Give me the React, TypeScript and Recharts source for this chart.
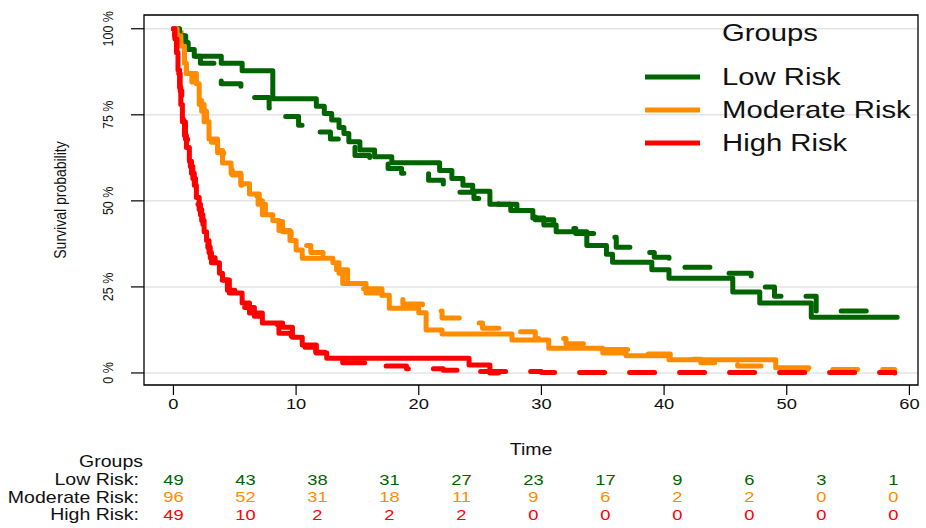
import { LineChart, Line, XAxis, YAxis, CartesianGrid, ReferenceArea, ReferenceDot, Legend } from 'recharts';

const FONT = 'Arial, "Liberation Sans", sans-serif';
const SX = 1.22; // the original is a bit stretched horizontally

const GREEN = '#006400';
const ORANGE = '#FF8C00';
const RED = '#FF0000';

// survival curves as [time, survival]
const lowSolid: [number, number][] = [
  [0, 1], [0.45, 0.98], [0.8, 0.96], [1.2, 0.94], [1.7, 0.92], [3.9, 0.9], [5.6, 0.878], [8.1, 0.797],
  [11.65, 0.775], [12.3, 0.754], [12.9, 0.735], [13.5, 0.713], [13.9, 0.696], [14.3, 0.672], [15.2, 0.648],
  [16.4, 0.628], [17.8, 0.611], [21.7, 0.588], [22.7, 0.565], [23.6, 0.545], [24.4, 0.528], [25.8, 0.49],
  [27.5, 0.472], [29.3, 0.45], [30.2, 0.43], [31.2, 0.41], [33.7, 0.37], [35.3, 0.345], [35.8, 0.322],
  [39.0, 0.3], [40.4, 0.275], [45.6, 0.235], [47.8, 0.203], [52.0, 0.162], [59.0, 0.162],
];
const lowDashed: [number, number][] = [
  [0, 1], [0.5, 0.98], [1.0, 0.95], [1.5, 0.92], [2.2, 0.9], [3.3, 0.87], [3.9, 0.84], [5.5, 0.82],
  [6.5, 0.8], [7.8, 0.77], [8.8, 0.745], [10.2, 0.72], [11.5, 0.7], [12.8, 0.68], [13.5, 0.66], [14.8, 0.632],
  [16.0, 0.61], [17.5, 0.594], [18.6, 0.58], [20.8, 0.56], [22.0, 0.54], [23.2, 0.525], [24.5, 0.507],
  [26.5, 0.49], [28.0, 0.465], [29.5, 0.445], [31.0, 0.42], [32.8, 0.405], [34.7, 0.394], [36.1, 0.365],
  [37.4, 0.35], [39.2, 0.336], [40.4, 0.307], [43.8, 0.29], [47.1, 0.275], [48.0, 0.25], [49.0, 0.223],
  [52.4, 0.18], [58.2, 0.18],
];
const modSolid: [number, number][] = [
  [0, 1], [0.25, 0.99], [0.65, 0.95], [0.9, 0.9], [1.06, 0.87], [1.87, 0.84], [2.1, 0.78], [2.5, 0.73],
  [2.9, 0.68], [3.6, 0.646], [4.0, 0.61], [4.7, 0.58], [5.5, 0.55], [6.2, 0.52], [7.0, 0.5], [7.25, 0.46],
  [8.1, 0.443], [8.6, 0.414], [9.5, 0.385], [10.0, 0.357], [10.5, 0.333], [13.0, 0.32], [13.5, 0.29],
  [13.8, 0.26], [15.7, 0.232], [17.0, 0.226], [17.6, 0.188], [20.0, 0.175], [20.6, 0.125], [21.9, 0.113],
  [27.6, 0.096], [30.6, 0.072], [35.0, 0.058], [36.9, 0.05], [40.4, 0.038], [49.1, 0.015], [51.8, 0.015],
];
const modDashed: [number, number][] = [
  [0, 1], [0.3, 0.98], [0.6, 0.95], [0.85, 0.91], [1.05, 0.87], [1.5, 0.845], [2.0, 0.8], [2.3, 0.76],
  [2.7, 0.71], [3.1, 0.67], [3.6, 0.64], [4.1, 0.605], [4.8, 0.575], [5.5, 0.545], [6.2, 0.515], [6.9, 0.49],
  [7.5, 0.465], [8.2, 0.44], [8.9, 0.41], [9.6, 0.39], [10.4, 0.37], [11.2, 0.35], [12.2, 0.33], [13.3, 0.3],
  [14.2, 0.27], [15.5, 0.245], [17.0, 0.225], [18.7, 0.2], [20.3, 0.18], [21.9, 0.16], [23.5, 0.145],
  [25.2, 0.13], [27.0, 0.12], [29.5, 0.1], [32.0, 0.085], [35.0, 0.068], [37.5, 0.055], [40.5, 0.04],
  [43.0, 0.03], [46.0, 0.02], [49.0, 0.01], [58.8, 0.01],
];
const highSolid: [number, number][] = [
  [0, 1], [0.1, 0.98], [0.25, 0.93], [0.37, 0.88], [0.5, 0.83], [0.6, 0.78], [0.73, 0.73], [0.9, 0.69],
  [1.06, 0.655], [1.3, 0.615], [1.47, 0.58], [1.7, 0.545], [1.87, 0.51], [2.1, 0.475], [2.3, 0.443],
  [2.5, 0.41], [2.7, 0.385], [2.9, 0.35], [3.1, 0.32], [3.75, 0.29], [4.0, 0.27], [4.56, 0.232], [5.6, 0.203],
  [6.2, 0.174], [7.25, 0.145], [8.9, 0.133], [9.7, 0.104], [10.5, 0.081], [11.65, 0.058], [12.5, 0.043],
  [24.1, 0.023], [25.8, 0], [26.5, 0],
];
const highDashed: [number, number][] = [
  [0, 1], [0.12, 0.97], [0.28, 0.92], [0.4, 0.87], [0.55, 0.82], [0.68, 0.77], [0.8, 0.73], [0.98, 0.68],
  [1.15, 0.645], [1.38, 0.6], [1.58, 0.565], [1.8, 0.53], [2.0, 0.49], [2.2, 0.46], [2.4, 0.425], [2.6, 0.395],
  [2.8, 0.365], [3.0, 0.335], [3.4, 0.3], [3.9, 0.27], [4.4, 0.24], [5.0, 0.215], [5.8, 0.19], [6.6, 0.165],
  [7.6, 0.14], [8.6, 0.115], [9.6, 0.095], [10.6, 0.075], [11.6, 0.06], [12.6, 0.045], [13.8, 0.03],
  [16.0, 0.02], [19.0, 0.012], [22.0, 0.008], [25.0, 0.004], [30.0, 0.001], [58.8, 0],
];

const groupNames = ['Low Risk', 'Moderate Risk', 'High Risk'];
const groupColors = [GREEN, ORANGE, RED];

// numbers at risk
const riskTimes = [0, 5.87, 11.74, 17.61, 23.48, 29.35, 35.22, 41.09, 46.96, 52.83, 58.7];
const lowAtRisk = [49, 43, 38, 31, 27, 23, 17, 9, 6, 3, 1];
const modAtRisk = [96, 52, 31, 18, 11, 9, 6, 2, 2, 0, 0];
const highAtRisk = [49, 10, 2, 2, 2, 0, 0, 0, 0, 0, 0];

const xTicks = [0, 10, 20, 30, 40, 50, 60];
const yTicks = [0, 0.25, 0.5, 0.75, 1];

const X_DOMAIN: [number, number] = [-2.4, 60.7];
const Y_DOMAIN: [number, number] = [-0.035, 1.04];

const toRows = (pts: [number, number][]) => pts.map(([t, s]) => ({ t, s }));

const solids = [lowSolid, modSolid, highSolid];
const dashes = [lowDashed, modDashed, highDashed];
const atRisk = [lowAtRisk, modAtRisk, highAtRisk];

const XTick = ({ x, y, payload }: any) => (
  <text
    transform={`translate(${x},${y + 7}) scale(${SX},1)`}
    textAnchor="middle"
    dominantBaseline="central"
    fontSize={15}
    fontFamily={FONT}
    fill="#111"
  >
    {payload.value}
  </text>
);

const YTick = ({ x, y, payload }: any) => (
  <text
    transform={`translate(${x - 21},${y}) scale(${SX},1) rotate(-90)`}
    textAnchor="middle"
    dominantBaseline="central"
    fontSize={12.5}
    fontFamily={FONT}
    fill="#111"
  >
    {`${Math.round(payload.value * 100)} %`}
  </text>
);

const stretchedText = (x: number, y: number, value: string | number, color: string, size: number, anchor: string) => (
  <text
    transform={`translate(${x},${y}) scale(${SX},1)`}
    textAnchor={anchor as any}
    dominantBaseline="central"
    fontSize={size}
    fontFamily={FONT}
    fill={color}
  >
    {value}
  </text>
);

const LegendBox = () => (
  <svg width={296} height={160}>
    {stretchedText(92, 33, 'Groups', '#111', 24, 'start')}
    {groupNames.map((name, i) => (
      <g key={name}>
        <line x1={15} x2={70} y1={77 + i * 33} y2={77 + i * 33} stroke={groupColors[i]} strokeWidth={5} />
        {stretchedText(92, 77 + i * 33, name, '#111', 24, 'start')}
      </g>
    ))}
  </svg>
);

export default function App() {
  return (
    <div style={{ position: 'absolute', left: 0, top: 0, width: 926, height: 528, background: '#fff' }}>
      <LineChart width={926} height={528} margin={{ top: 15, right: 8, bottom: 78, left: 40 }}>
        <CartesianGrid vertical={false} stroke="#e4e4e4" strokeWidth={1.5} />
        <XAxis
          dataKey="t"
          type="number"
          domain={X_DOMAIN}
          allowDataOverflow
          ticks={xTicks}
          tick={<XTick />}
          tickSize={10}
          tickLine={{ stroke: '#000', strokeWidth: 1.2 }}
          axisLine={false}
          height={65}
          label={{
            content: ({ viewBox }: any) =>
              stretchedText(viewBox.x + viewBox.width / 2, 450, 'Time', '#111', 16, 'middle'),
          }}
        />
        <YAxis
          type="number"
          domain={Y_DOMAIN}
          allowDataOverflow
          ticks={yTicks}
          tick={<YTick />}
          tickSize={13}
          tickLine={{ stroke: '#000', strokeWidth: 1.2 }}
          axisLine={false}
          width={104}
          label={{
            content: ({ viewBox }: any) => (
              <text
                transform={`translate(${viewBox.x + 20},${viewBox.y + viewBox.height / 2}) scale(${SX},1) rotate(-90)`}
                textAnchor="middle"
                dominantBaseline="central"
                fontSize={14}
                fontFamily={FONT}
                fill="#111"
              >
                Survival probability
              </text>
            ),
          }}
        />
        <ReferenceArea
          x1={X_DOMAIN[0]}
          x2={X_DOMAIN[1]}
          y1={Y_DOMAIN[0]}
          y2={Y_DOMAIN[1]}
          fill="none"
          stroke="#000"
          strokeWidth={1.3}
          ifOverflow="visible"
        />
        {solids.map((pts, i) => (
          <Line
            key={`solid-${i}`}
            data={toRows(pts)}
            dataKey="s"
            type="stepAfter"
            stroke={groupColors[i]}
            strokeWidth={5}
            strokeLinecap="round"
            strokeLinejoin="round"
            dot={false}
            activeDot={false}
            isAnimationActive={false}
          />
        ))}
        {dashes.map((pts, i) => (
          <Line
            key={`dash-${i}`}
            data={toRows(pts)}
            dataKey="s"
            type="stepAfter"
            stroke={groupColors[i]}
            strokeWidth={5}
            strokeDasharray="25 25"
            strokeLinecap="round"
            strokeLinejoin="round"
            dot={false}
            activeDot={false}
            isAnimationActive={false}
          />
        ))}
        {/* risk table: header and row labels hang off the left edge */}
        <ReferenceDot
          x={X_DOMAIN[0]}
          y={0}
          ifOverflow="visible"
          shape={(p: any) => stretchedText(p.cx - 1, p.cy + 89, 'Groups', '#111', 16, 'end')}
        />
        {groupNames.map((name, g) => (
          <ReferenceDot
            key={`lab-${g}`}
            x={X_DOMAIN[0]}
            y={0}
            ifOverflow="visible"
            shape={(p: any) => stretchedText(p.cx - 5, p.cy + 107 + g * 17.5, `${name}:`, '#111', 16, 'end')}
          />
        ))}
        {atRisk.map((row, g) =>
          row.map((n, i) => (
            <ReferenceDot
              key={`risk-${g}-${i}`}
              x={riskTimes[i]}
              y={0}
              ifOverflow="visible"
              shape={(p: any) => stretchedText(p.cx, p.cy + 107 + g * 17.5, n, groupColors[g], 15, 'middle')}
            />
          )),
        )}
        <Legend
          layout="horizontal"
          verticalAlign="middle"
          align="center"
          content={<LegendBox />}
          wrapperStyle={{ left: 630, top: 0, width: 296, height: 160 }}
        />
      </LineChart>
    </div>
  );
}
